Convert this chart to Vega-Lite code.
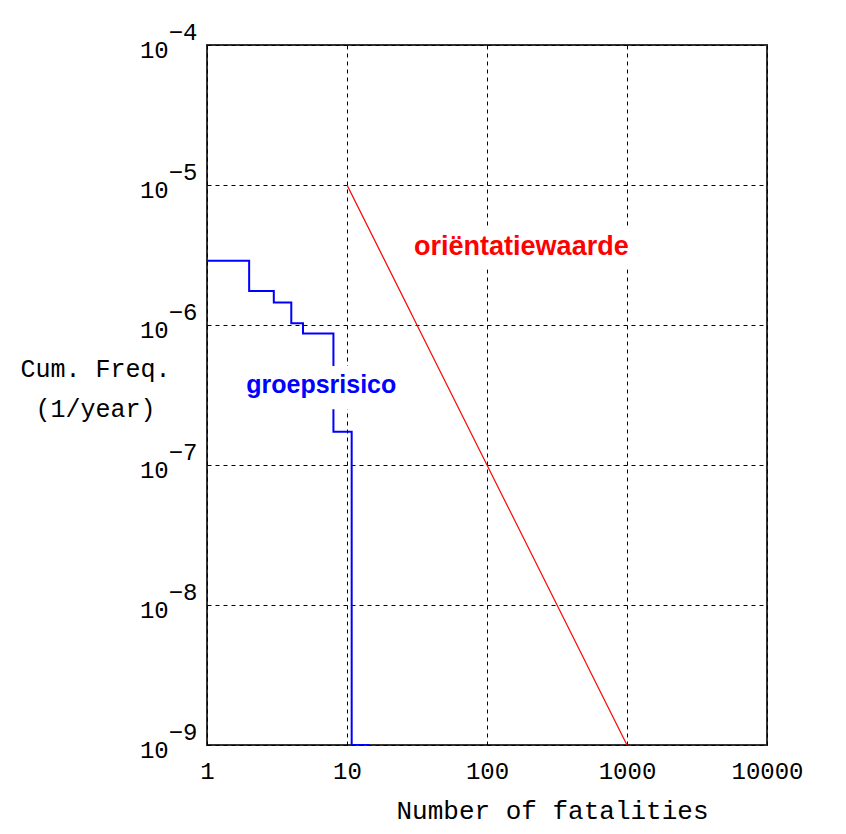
{
  "$schema": "https://vega.github.io/schema/vega-lite/v6.json",
  "width": 560,
  "height": 700,
  "autosize": {"type": "none"},
  "padding": {"left": 207, "top": 45, "right": 79, "bottom": 89},
  "background": "white",
  "config": {
    "view": {"stroke": "#333333", "strokeWidth": 2},
    "axis": {
      "grid": true,
      "gridColor": "black",
      "gridDash": [4, 4],
      "gridWidth": 1,
      "gridOpacity": 1,
      "ticks": false,
      "tickSize": 0,
      "domain": false,
      "labelFont": "Liberation Mono",
      "labelFontSize": 24,
      "labelColor": "black",
      "titleFont": "Liberation Mono",
      "titleFontSize": 25,
      "titleFontWeight": "normal",
      "titleColor": "black",
      "labelOverlap": false,
      "labelFlush": false
    }
  },
  "encoding": {
    "x": {
      "field": "x",
      "type": "quantitative",
      "scale": {"type": "log", "domain": [1, 10000], "nice": false},
      "axis": {
        "values": [1, 10, 100, 1000, 10000],
        "format": "d",
        "labelBaseline": "middle",
        "labelPadding": 26,
        "title": "Number of fatalities",
        "titleFontSize": 26,
        "titleX": 345,
        "titleY": 73,
        "titleAlign": "center",
        "titleBaseline": "alphabetic",
        "titleAnchor": null
      }
    },
    "y": {
      "field": "y",
      "type": "quantitative",
      "scale": {"type": "log", "domain": [1e-9, 1e-4], "nice": false},
      "axis": {
        "values": [1e-9, 1e-8, 1e-7, 1e-6, 1e-5, 1e-4],
        "labelExpr": "['−' + round(-log(datum.value)/LN10), '10\u00a0\u00a0\u200b']",
        "labelAlign": "right",
        "labelBaseline": "middle",
        "labelLineHeight": 18,
        "labelOffset": -13,
        "labelPadding": 10,
        "title": ["Cum. Freq.", "(1/year)"],
        "titleAngle": 0,
        "titleX": -112,
        "titleY": 331,
        "titleAlign": "center",
        "titleBaseline": "alphabetic",
        "titleLineHeight": 40,
        "titleAnchor": null
      }
    }
  },
  "layer": [
    {
      "data": {"values": [
        {"x": 1.82, "x2": 23.5, "y": 5.1e-7, "y2": 2.5e-7},
        {"x": 29.3, "x2": 1080, "y": 5.0e-6, "y2": 2.5e-6}
      ]},
      "mark": {"type": "rect", "fill": "white", "stroke": null},
      "encoding": {
        "x2": {"field": "x2"},
        "y2": {"field": "y2"}
      }
    },
    {
      "data": {"values": [
        {"x": 1, "y": 2.88e-6},
        {"x": 2, "y": 1.75e-6},
        {"x": 3, "y": 1.45e-6},
        {"x": 4, "y": 1.03e-6},
        {"x": 4.85, "y": 8.7e-7},
        {"x": 8, "y": 1.73e-7},
        {"x": 10.8, "y": 1e-9},
        {"x": 14.5, "y": 1e-9}
      ]},
      "mark": {"type": "line", "interpolate": "step-after", "color": "#0000ff", "strokeWidth": 2, "clip": true},
      "encoding": {}
    },
    {
      "data": {"values": [
        {"x": 1.82, "x2": 23.5, "y": 5.1e-7, "y2": 2.5e-7}
      ]},
      "mark": {"type": "rect", "fill": "white", "stroke": null},
      "encoding": {
        "x2": {"field": "x2"},
        "y2": {"field": "y2"}
      }
    },
    {
      "data": {"values": [
        {"x": 10, "y": 1e-5},
        {"x": 1000, "y": 1e-9}
      ]},
      "mark": {"type": "line", "color": "#ff0000", "strokeWidth": 1.2},
      "encoding": {}
    },
    {
      "data": {"values": [
        {"x": 6.55, "y": 3.7e-7, "label": "groepsrisico"}
      ]},
      "mark": {"type": "text", "font": "Liberation Sans", "fontWeight": "bold", "fontSize": 25, "color": "#0000ff", "align": "center", "baseline": "middle"},
      "encoding": {"text": {"field": "label"}}
    },
    {
      "data": {"values": [
        {"x": 176, "y": 3.6e-6, "label": "oriëntatiewaarde"}
      ]},
      "mark": {"type": "text", "font": "Liberation Sans", "fontWeight": "bold", "fontSize": 27, "color": "#ff0000", "align": "center", "baseline": "middle"},
      "encoding": {"text": {"field": "label"}}
    }
  ]
}
